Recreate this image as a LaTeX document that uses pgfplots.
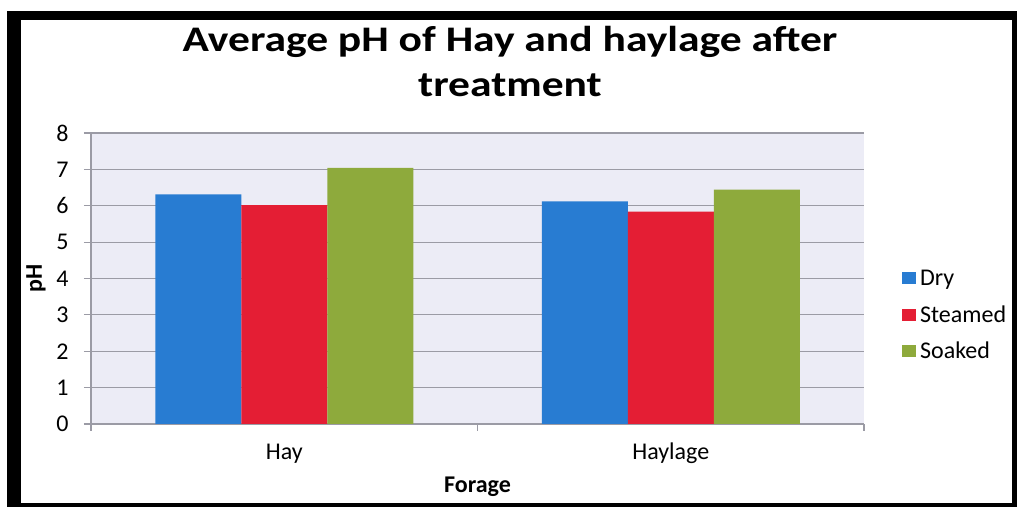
\documentclass[border=0pt]{standalone}
\usepackage{fontspec}
\setmainfont{Carlito}
\newfontfamily\titlefont{Carlito}[FakeStretch=1.21]
\usepackage{pgfplots}
\pgfplotsset{compat=1.18}
\definecolor{barblue}{RGB}{40,124,210}
\definecolor{barred}{RGB}{228,30,52}
\definecolor{bargreen}{RGB}{142,170,60}
\definecolor{plotbg}{RGB}{236,236,246}
\definecolor{gridgray}{RGB}{155,155,165}
\begin{document}
\begin{tikzpicture}
\fill[white] (0,0) rectangle (508.5pt,253.5pt);
\fill[black] (3.5pt,0pt) rectangle (508.5pt,248pt);
\fill[white] (10.5pt,2pt) rectangle (506pt,243.5pt);
\begin{axis}[
  at={(45.5pt,41.5pt)}, anchor=south west,
  scale only axis, width=386.5pt, height=145.5pt,
  ybar=0pt, bar width=43pt,
  xmin=-0.5, xmax=1.5, ymin=0, ymax=8,
  ytick={0,1,...,8},
  xtick={0,1}, xticklabels={Hay,Haylage},
  minor xtick={-0.5,0.5,1.5},
  axis x line=bottom, axis y line=left,
  axis line style={-, draw=gridgray, line width=0.6pt},
  axis background/.style={fill=plotbg},
  ymajorgrids, grid style={gridgray, line width=0.6pt},
  tick align=outside,
  major tick length=3.5pt, minor tick length=3.5pt,
  major x tick style={draw=none},
  minor x tick style={gridgray, line width=0.6pt},
  major y tick style={gridgray, line width=0.6pt},
  /pgf/number format/assume math mode=true,
  ticklabel style={font=\fontsize{12}{14}\selectfont, text=black},
  yticklabel style={anchor=east, inner sep=0pt, xshift=-7.5pt},
  xticklabel style={anchor=base, inner sep=0pt, yshift=-14.5pt},
  xlabel={Forage}, ylabel={pH},
  label style={font=\bfseries\fontsize{12}{14}\selectfont},
  xlabel style={at={(axis description cs:0.5,-0.2337)}, anchor=base, inner sep=0pt},
  ylabel style={at={(axis description cs:-0.0712,0.5)}, anchor=center, inner sep=0pt},
  title={Average pH of Hay and haylage after\\treatment},
  title style={font=\titlefont\bfseries\fontsize{18}{22.5}\selectfont, align=center,
    at={(axis description cs:0.542,1)}, anchor=south, inner sep=0pt, yshift=12pt},
  legend style={at={(axis description cs:1.0488,0.375)}, anchor=west,
    draw=none, fill=none, inner sep=0pt,
    font=\fontsize{12}{14}\selectfont,
    nodes={inner sep=0pt, text height=12.875pt, text depth=5.375pt},
    /tikz/every even column/.append style={column sep=0pt}},
  legend image code/.code={\fill[#1] (0pt,-3pt) rectangle (7pt,3pt);},
  legend cell align=left,
]
\addplot[fill=barblue, draw=none] coordinates {(0,6.31) (1,6.12)};
\addplot[fill=barred, draw=none] coordinates {(0,6.02) (1,5.84)};
\addplot[fill=bargreen, draw=none] coordinates {(0,7.04) (1,6.44)};
\legend{\,Dry,\,Steamed,\,Soaked}
\end{axis}
\end{tikzpicture}
\end{document}
